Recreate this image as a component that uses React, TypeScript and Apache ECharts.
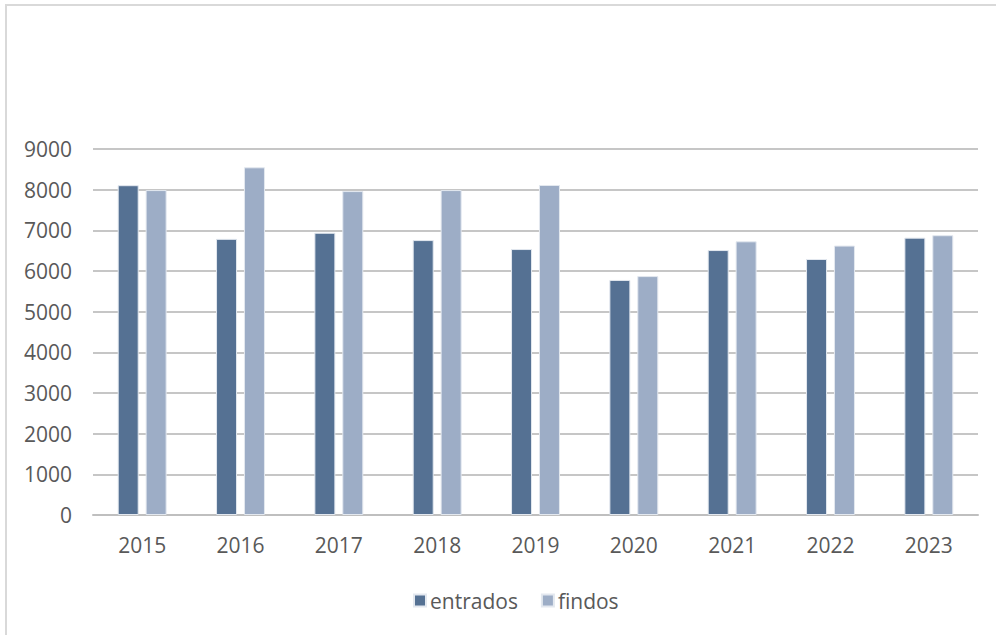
import React, { useEffect, useRef } from "react";
import * as echarts from "echarts";

const years = ["2015", "2016", "2017", "2018", "2019", "2020", "2021", "2022", "2023"];
const entrados = [8110, 6790, 6940, 6760, 6540, 5780, 6515, 6295, 6820];
const findos = [7990, 8550, 7965, 7990, 8115, 5875, 6730, 6625, 6880];
const yTicks = [0, 1000, 2000, 3000, 4000, 5000, 6000, 7000, 8000, 9000];

export default function App() {
  const ref = useRef<HTMLDivElement>(null);
  useEffect(() => {
    if (!ref.current) return;
    const chart = echarts.init(ref.current, null, { renderer: "svg" });
    const font = "'Open Sans', 'Liberation Sans', sans-serif";
    chart.setOption({
      animation: false,
      grid: { left: 93, right: 18, top: 149, bottom: 120, containLabel: false },
      legend: {
        top: 585,
        left: 408,
        itemWidth: 12,
        itemHeight: 12,
        itemGap: 23,
        icon: "rect",
        textStyle: { color: "#595959", fontSize: 21, fontFamily: font, padding: [0, 0, 0, -1] },
        data: ["entrados", "findos"],
      },
      xAxis: {
        type: "category",
        data: years,
        axisLine: { lineStyle: { color: "#BFBFBF", width: 2 } },
        axisTick: { show: false },
        axisLabel: { color: "#595959", fontSize: 21, fontFamily: font, margin: 19 },
      },
      yAxis: {
        type: "value",
        min: yTicks[0],
        max: yTicks[yTicks.length - 1],
        interval: 1000,
        axisLine: { show: false },
        axisTick: { show: false },
        axisLabel: {
          color: "#595959",
          fontSize: 21,
          fontFamily: font,
          margin: 21,
          formatter: (v: number) => String(v),
        },
        splitLine: { lineStyle: { color: "#C6C6C6", width: 2 } },
      },
      series: [
        {
          name: "entrados",
          type: "bar",
          data: entrados,
          barWidth: 21,
          barGap: "33%",
          itemStyle: { color: "#557193", borderColor: "#E3E8EF", borderWidth: 1 },
        },
        {
          name: "findos",
          type: "bar",
          data: findos,
          barWidth: 21,
          itemStyle: { color: "#9DADC6", borderColor: "#E3E8EF", borderWidth: 1 },
        },
      ],
    });
    return () => chart.dispose();
  }, []);
  return (
    <div style={{ position: "fixed", left: 0, top: 0, width: 996, height: 635, background: "#fff" }}>
      <div
        style={{
          position: "absolute",
          left: 5,
          top: 4,
          width: 1000,
          height: 700,
          borderLeft: "2px solid #D9D9D9",
          borderTop: "2px solid #D9D9D9",
          boxSizing: "border-box",
        }}
      />
      <div ref={ref} style={{ position: "absolute", left: 0, top: 0, width: 996, height: 635 }} />
    </div>
  );
}
